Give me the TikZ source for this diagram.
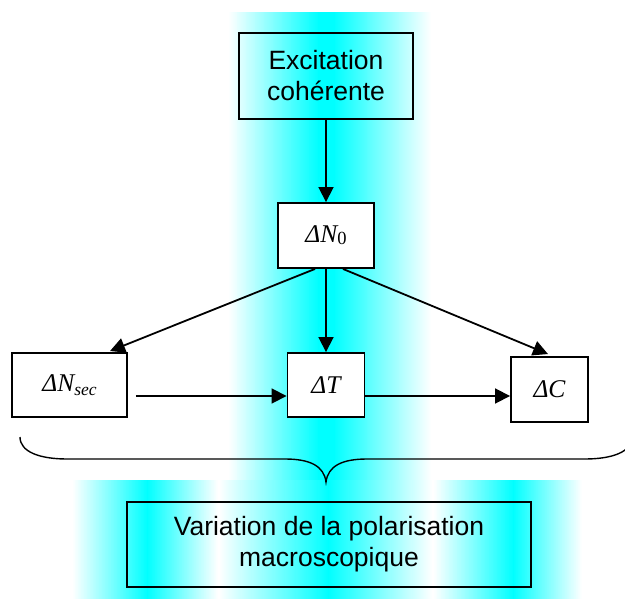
\documentclass[tikz,border=0pt]{standalone}
\usepackage{fontspec}
\setmainfont{Liberation Sans}
\newfontfamily\tnr{Liberation Serif}
\usetikzlibrary{arrows.meta,calc}
\definecolor{glow}{RGB}{0,255,255}
\newcommand{\mylab}[1]{{\tnr\itshape\fontsize{25.5}{30}\selectfont #1}}
% horizontal colour ramp built from thin strips: x0, x1, y0, y1, start %, end %
\newcommand{\myramp}[6]{%
  \pgfmathtruncatemacro\rampn{#2-#1}%
  \foreach \k in {0,...,\rampn}{%
    \pgfmathtruncatemacro\rampp{#5+(#6-#5)*\k/\rampn}%
    \fill[glow!\rampp!white] ({#1+\k},#3) rectangle ({#1+\k+1.3},#4);}}
\begin{document}
\begin{tikzpicture}[x=1pt,y=-1pt,
  box/.style={draw=black, line width=1.9pt, inner sep=0pt, align=center},
  wbox/.style={box, fill=white},
  lbl/.style={font=\fontsize{26.5}{31}\selectfont},
  arr/.style={line width=1.8pt, -{Triangle[length=15pt,width=15pt]}},
  bracestyle/.style={line width=1.4pt}
  ]
\useasboundingbox (0,0) rectangle (625,599);
% vertical glow band
\myramp{228}{318}{12}{480.5}{0}{100}
\fill[glow] (318,12) rectangle (334.5,480.5);
\myramp{334}{431}{12}{480.5}{100}{0}
% horizontal glow band
\myramp{72}{147}{480}{599}{0}{100}
\myramp{147}{218}{480}{599}{100}{0}
\myramp{218}{328}{480}{599}{0}{100}
\myramp{328}{433}{480}{599}{100}{0}
\myramp{433}{513}{480}{599}{0}{100}
\myramp{513}{582}{480}{599}{100}{0}
% brace
\draw[bracestyle] (20,437) .. controls (20,452) and (40,459) .. (67,459) -- (285,459)
  .. controls (310,459) and (324,466) .. (326,482)
  .. controls (328,466) and (342,459) .. (367,459) -- (585,459)
  .. controls (612,459) and (632,452) .. (632,437);
% nodes
\node[box, lbl, minimum width=174pt, minimum height=86pt] (exc) at (326,76) {Excitation\\coh\'erente};
\node[wbox, minimum width=96pt, minimum height=65pt] (n0) at (326,235.5)
  {\mylab{ΔN}\raisebox{-2pt}{\tnr\fontsize{18.5}{18}\selectfont 0}};
\node[wbox, minimum width=115pt, minimum height=64pt] (nsec) at (69.5,385)
  {\mylab{ΔN}\raisebox{-4pt}{\tnr\itshape\fontsize{17.5}{17}\selectfont sec}};
\node[wbox, minimum width=77pt, minimum height=64pt] (t) at (326,385) {\mylab{ΔT}};
\node[wbox, minimum width=77pt, minimum height=65pt] (c) at (549.5,389.5) {\mylab{ΔC}};
\node[box, lbl, minimum width=404pt, minimum height=85pt] (var) at (329,544.5)
  {Variation de la polarisation\\macroscopique};
% connectors
\draw[arr] (exc) -- (n0);
\draw[arr] (n0) -- (t);
\draw[arr] ($(n0.south)+(-11,0)$) -- ($(nsec.north)+(40.5,-1)$);
\draw[arr] ($(n0.south)+(17,0)$) -- ($(c.north)+(-1.5,-2)$);
\draw[arr] ($(nsec.east)+(8,11)$) -- ($(t.west)+(0,11)$);
\draw[arr] ($(t.east)+(0,11)$) -- ($(c.west)+(0,6.5)$);
\end{tikzpicture}
\end{document}
